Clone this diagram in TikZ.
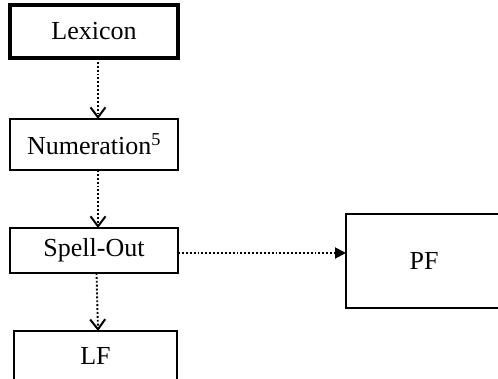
\documentclass[tikz,border=0pt]{standalone}
\usepackage{fontspec}
\setmainfont{Liberation Serif}
\usetikzlibrary{arrows.meta}

\tikzset{
    stage/.style={draw, line width=2.4pt, inner sep=0pt, outer sep=0pt,
        font=\fontsize{26}{31}\selectfont},
    derive/.style={dotted, line width=1.9pt, -{Straight Barb[length=10pt,width=15pt,line width=2pt]}},
    transfer/.style={dotted, line width=1.9pt, -{Triangle[length=11pt,width=11pt]}}
}

\begin{document}
\begin{tikzpicture}[x=1pt,y=-1pt]
    %% Background
    \useasboundingbox (0,0) rectangle (498,379);

    %% Stages
    \node[stage, line width=3.2pt, minimum width=168pt, minimum height=53pt] (lex) at (94,31.5) {Lexicon};
    \node[stage, minimum width=168pt, minimum height=51pt] (num) at (94,144.5) {Numeration\textsuperscript{5}};
    \node[stage, minimum width=168pt, minimum height=45pt] (spell) at (94,250.5) {Spell-Out};
    \node[stage, minimum width=163pt, minimum height=50pt] (lf) at (95.5,356) {LF};
    \node[stage, line width=2.6pt, minimum width=156pt, minimum height=94pt] (pf) at (424,261) {PF};

    %% Derivation
    \draw[derive] ([xshift=4pt]lex.south) -- ([xshift=4pt]num.north);
    \draw[derive] ([xshift=4pt]num.south) -- ([xshift=4pt]spell.north);
    \draw[derive] ([xshift=2.5pt]spell.south) -- ([xshift=2.5pt]lf.north);
    \draw[transfer] ([yshift=-2.5pt]spell.east) -- ([yshift=-2.5pt]spell.east -| pf.west);
\end{tikzpicture}
\end{document}
